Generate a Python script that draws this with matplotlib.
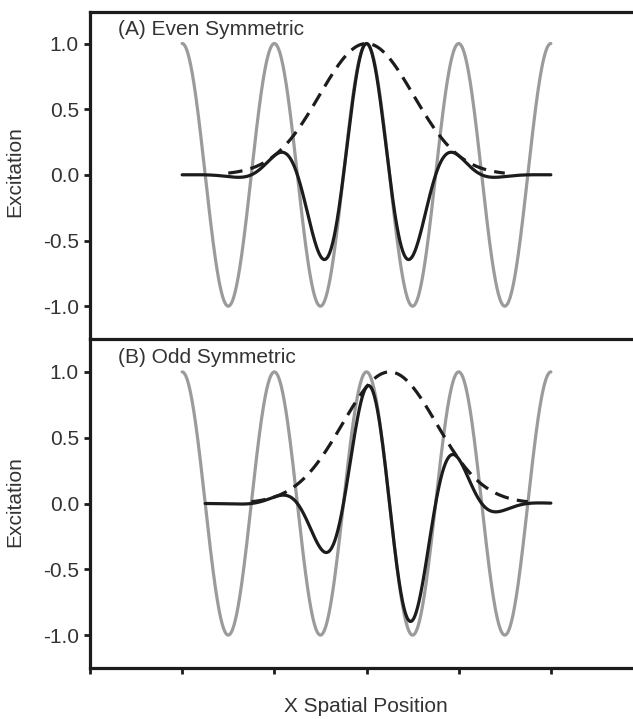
import numpy as np
import matplotlib
matplotlib.use("Agg")
import matplotlib.pyplot as plt

plt.rcParams['font.family'] = ['Liberation Sans', 'DejaVu Sans']

# Gabor receptive-field parameters (x in units of carrier period)
carrier_period = 1.0
carrier_start, carrier_end = 1.0, 5.0
even_center = 3.0
odd_center = 3.25
envelope_sigma = 0.51
envelope_halfspan = 1.5

panel_titles = ["(A) Even Symmetric", "(B) Odd Symmetric"]
panel_centers = [even_center, odd_center]
y_ticks = [-1.0, -0.5, 0.0, 0.5, 1.0]
y_tick_labels = ["-1.0", "-0.5", "0.0", "0.5", "1.0"]
x_ticks = [0, 1, 2, 3, 4, 5]

GREY = "#9b9b9b"
BLACK = "#1c1c1c"
TEXT = "#333333"
FS = 15

fig = plt.figure(figsize=(6.33, 7.19), dpi=100)
left, right = 90 / 633, 1.0
y_top, y_mid, y_bot = 1 - 12 / 719, 1 - 339 / 719, 1 - 668 / 719
ax_top = fig.add_axes([left, y_mid, right - left, y_top - y_mid])
ax_bot = fig.add_axes([left, y_bot, right - left, y_mid - y_bot])

x_axis_max = (633 - 91) / 92

for ax, title, c in zip([ax_top, ax_bot], panel_titles, panel_centers):
    xc = np.linspace(carrier_start, carrier_end, 800)
    carrier = np.cos(2 * np.pi * xc / carrier_period)
    ax.plot(xc, carrier, color=GREY, lw=2.3, solid_capstyle='round', zorder=1)

    xe = np.linspace(c - envelope_halfspan, c + envelope_halfspan, 400)
    env = np.exp(-(xe - c) ** 2 / (2 * envelope_sigma ** 2))
    ax.plot(xe, env, color=BLACK, lw=2.3, dashes=(4.5, 2.6), zorder=2)

    xg = np.linspace(max(c - 2.0, carrier_start), min(c + 2.0, carrier_end), 800)
    gabor = np.cos(2 * np.pi * xg / carrier_period) * np.exp(-(xg - c) ** 2 / (2 * envelope_sigma ** 2))
    ax.plot(xg, gabor, color=BLACK, lw=2.3, solid_capstyle='round', zorder=3)

    ax.set_xlim(0, x_axis_max)
    ax.set_ylim(-1.25, 1.24)
    ax.set_yticks(y_ticks)
    ax.set_yticklabels(y_tick_labels)
    ax.tick_params(axis='y', direction='out', length=4, width=2.0, pad=4,
                   labelsize=FS, colors=BLACK, labelcolor=TEXT)
    for side in ['left', 'top', 'bottom']:
        ax.spines[side].set_linewidth(2.3)
        ax.spines[side].set_color(BLACK)
    ax.spines['right'].set_visible(False)
    ax.text(0.052, 0.945, title, transform=ax.transAxes, fontsize=FS,
            color=TEXT, va='center', ha='left')

ax_top.set_xticks([])
ax_top.spines['bottom'].set_visible(False)
ax_bot.set_ylim(-1.25, 1.25)
ax_bot.set_xticks(x_ticks)
ax_bot.set_xticklabels([])
ax_bot.tick_params(axis='x', direction='out', length=4, width=2.0, colors=BLACK)

fig.text(15 / 633, 1 - 172 / 719, "Excitation", rotation=90, fontsize=FS,
         color=TEXT, ha='center', va='center')
fig.text(15 / 633, 1 - 502 / 719, "Excitation", rotation=90, fontsize=FS,
         color=TEXT, ha='center', va='center')
fig.text(366 / 633, 1 - 707 / 719, "X Spatial Position", fontsize=FS,
         color=TEXT, ha='center', va='center')

fig.savefig("out.png", dpi=100)
